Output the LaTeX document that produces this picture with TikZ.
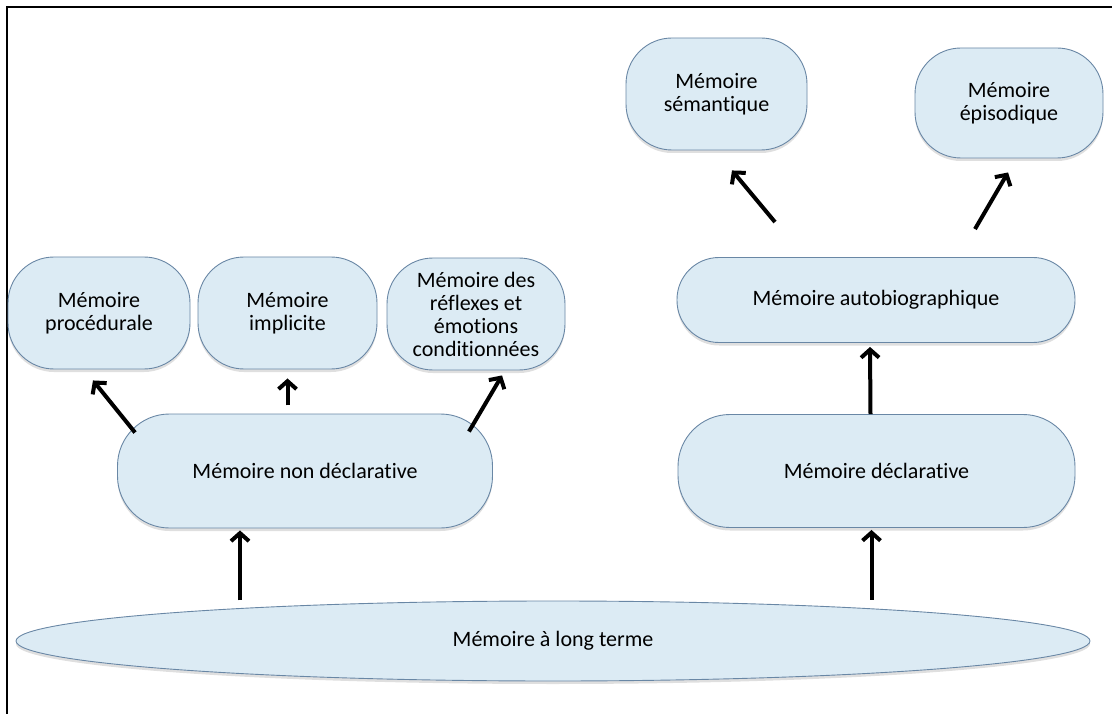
\documentclass[tikz,border=0pt]{standalone}
\usepackage{fontspec}
\setmainfont{Carlito}[Ligatures=NoCommon]
\usetikzlibrary{arrows.meta,shadows,shapes.geometric,calc}
\definecolor{memfill}{RGB}{220,235,244}
\definecolor{memline}{RGB}{105,135,165}

\begin{document}
\begin{tikzpicture}[%
    x=1pt, y=-1pt,                          % Pixel grid, y going down
    font=\fontsize{22}{23}\selectfont,      % Calibri-like text
    ]
% -------------------------------------------------
% Box and connector styles
\tikzset{
  base/.style={draw=memline, fill=memfill, line width=0.9pt, align=center,
    inner sep=0pt, drop shadow={shadow xshift=0pt, shadow yshift=-3pt, opacity=.25}},
  box/.style={base, rounded corners=46pt},
  pill/.style={base, rounded corners=42pt},
  oval/.style={base, ellipse},
  % Thick black arrows
  tk/.style={-{Straight Barb[length=8pt,width=18pt]}, line width=4pt, black}
}
\useasboundingbox (0,0) rectangle (1112,714);
\draw[line width=1.6pt] (7,714) -- (7,7) -- (1112,7);
% -------------------------------------------------
% Start by placing the nodes
\node [oval, minimum width=1074, minimum height=80] (long) at (553,641) {Mémoire à long terme};
\node [box, rounded corners=52pt, minimum width=375, minimum height=114] (nondecl) at (305,471) {Mémoire non déclarative};
\node [box, rounded corners=52pt, minimum width=397, minimum height=113] (decl) at (876.5,471) {Mémoire déclarative};
\node [box, minimum width=182, minimum height=112] (proc) at (99,313) {Mémoire\\procédurale};
\node [box, minimum width=179, minimum height=112] (impl) at (287.5,313) {Mémoire\\implicite};
\node [box, minimum width=178, minimum height=112] (refl) at (476,314) {Mémoire des\\réflexes et\\émotions\\conditionnées};
\node [pill, minimum width=398, minimum height=85] (auto) at (876,300) {Mémoire autobiographique};
\node [box, minimum width=181, minimum height=112] (sem) at (716.5,94) {Mémoire\\sémantique};
\node [box, minimum width=188, minimum height=110] (epi) at (1009,103) {Mémoire\\épisodique};

% Connectors
\draw[tk] ($(nondecl.south)+(-65,72)$) -- ($(nondecl.south)+(-65,2)$);	%long,nondecl
\draw[tk] ($(decl.south)+(-5,72)$) -- ($(decl.south)+(-5,2)$);	%long,decl
\draw[tk] ($(nondecl.north west)+(18,19)$) -- ($(proc.south)+(-6,11)$);	%nondecl,proc
\draw[tk] ($(impl.south)+(0,36)$) -- ($(impl.south)+(0,9)$);	%nondecl,impl
\draw[tk] ($(nondecl.north east)+(-24,18)$) -- ($(refl.south)+(26,5)$);	%nondecl,refl
\draw[tk] ($(decl.north)+(-6,0)$) -- ($(auto.south)+(-6,4)$);	%decl,auto
\draw[tk] ($(auto.north)+(-101,-35)$) -- ($(sem.south)+(15.5,20)$);	%auto,sem
\draw[tk] ($(auto.north)+(99,-28)$) -- ($(epi.south)+(-1,14)$);	%auto,epi
% -------------------------------------------------
\end{tikzpicture}
\end{document}
